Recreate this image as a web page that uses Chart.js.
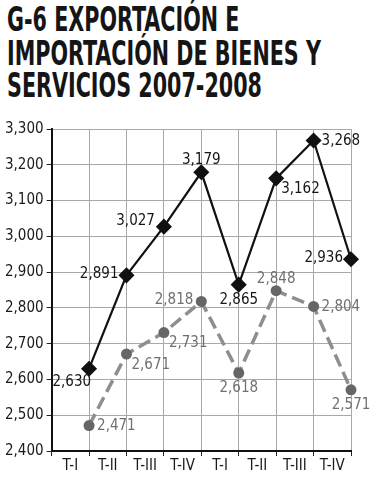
<!DOCTYPE html>
<html>
<head>
<meta charset="utf-8">
<script src="https://cdn.jsdelivr.net/npm/chart.js@4"></script>
<style>
  body { margin: 0; background: #fff; width: 385px; height: 500px; overflow: hidden; }
  #titulo {
    position: absolute; left: 7px; top: 3px;
    font-family: 'DejaVu Sans Condensed', sans-serif;
    font-weight: bold; font-size: 23px; line-height: 22.5px; color: #151515;
    transform: scaleY(1.47); transform-origin: 0 0; white-space: nowrap;
  }
  #caja { position: absolute; left: 0; top: 110px; width: 385px; height: 390px; }
</style>
</head>
<body>
<div id="titulo">G-6 EXPORTACIÓN E<br>IMPORTACIÓN DE BIENES Y<br>SERVICIOS 2007-2008</div>
<div id="caja"><canvas id="grafico"></canvas></div>
<script>
const trimestres = ['T-I', 'T-II', 'T-III', 'T-IV', 'T-I', 'T-II', 'T-III', 'T-IV'];
const exportaciones = [2630, 2891, 3027, 3179, 2865, 3162, 3268, 2936];
const importaciones = [2471, 2671, 2731, 2818, 2618, 2848, 2804, 2571];

// where each value label sits relative to its point
const posExport = ['bl', 'l', 'tl', 't', 'b', 'br', 'r', 'l'];
const posImport = ['r', 'br', 'br', 'l', 'b', 't', 'r', 'b'];

const fuente = "'DejaVu Sans Condensed', sans-serif";
const fmt = v => v.toLocaleString('en-US');

const desplaza = {
    l: [-8, -1, 'right'],
    r: [8, 1, 'left'],
    t: [0, -12, 'center'],
    b: [0, 15, 'center'],
    bl: [2, 13, 'right'],
    tl: [-9, -6, 'right'],
    br: [5, 11, 'left']
};

const etiquetas = {
    id: 'etiquetas',
    afterDatasetsDraw(chart) {
        const c = chart.ctx;
        const conf = [
            { pos: posExport, color: '#161616' },
            { pos: posImport, color: '#707070' }
        ];
        chart.data.datasets.forEach((ds, i) => {
            const meta = chart.getDatasetMeta(i);
            c.save();
            c.font = '15px ' + fuente;
            c.fillStyle = conf[i].color;
            c.textBaseline = 'middle';
            meta.data.forEach((pt, j) => {
                const d = desplaza[conf[i].pos[j]];
                c.textAlign = d[2];
                c.fillText(fmt(ds.data[j].y), pt.x + d[0], pt.y + d[1]);
            });
            c.restore();
        });
    }
};

const ctx = document.getElementById('grafico');
new Chart(ctx, {
    type: 'line',
    data: {
        datasets: [{
            label: 'Exportación',
            data: exportaciones.map((v, i) => ({ x: i + 1, y: v })),
            borderColor: '#111',
            backgroundColor: '#111',
            borderWidth: 2.2,
            pointStyle: 'rectRot',
            pointRadius: 6.5,
            clip: false,
            tension: 0
        }, {
            label: 'Importación',
            data: importaciones.map((v, i) => ({ x: i + 1, y: v })),
            borderColor: '#8e8e8e',
            backgroundColor: '#666',
            borderWidth: 3.5,
            borderDash: [13, 6],
            pointStyle: 'circle',
            pointRadius: 5.5,
            pointBorderWidth: 0,
            clip: false,
            tension: 0
        }]
    },
    options: {
        responsive: true,
        maintainAspectRatio: false,
        animation: false,
        layout: { padding: { top: 19, left: 2, right: 34, bottom: 24 } },
        scales: {
            x: {
                type: 'linear',
                min: 0,
                max: 8,
                border: { color: '#111', width: 2 },
                grid: {
                    color: c => c.tick && c.tick.value % 1 === 0 ? '#a8a8a8' : 'rgba(0,0,0,0)',
                    tickColor: c => c.tick && c.tick.value % 1 === 0 ? '#222' : 'rgba(0,0,0,0)',
                    tickLength: 5
                },
                ticks: {
                    stepSize: 0.5,
                    autoSkip: false,
                    maxRotation: 0,
                    color: '#1a1a1a',
                    font: { family: fuente, size: 15 },
                    padding: 1,
                    callback: v => (v % 1 === 0.5 ? trimestres[Math.floor(v)] : '')
                }
            },
            y: {
                min: 2400,
                max: 3300,
                border: { color: '#111', width: 2 },
                grid: { color: '#a8a8a8', tickColor: '#222', tickLength: 5 },
                ticks: {
                    stepSize: 100,
                    color: '#1a1a1a',
                    font: { family: fuente, size: 15 },
                    padding: 3,
                    callback: v => fmt(v)
                }
            }
        },
        plugins: {
            legend: { display: false },
            tooltip: { enabled: false }
        }
    },
    plugins: [etiquetas]
});
</script>
</body>
</html>
